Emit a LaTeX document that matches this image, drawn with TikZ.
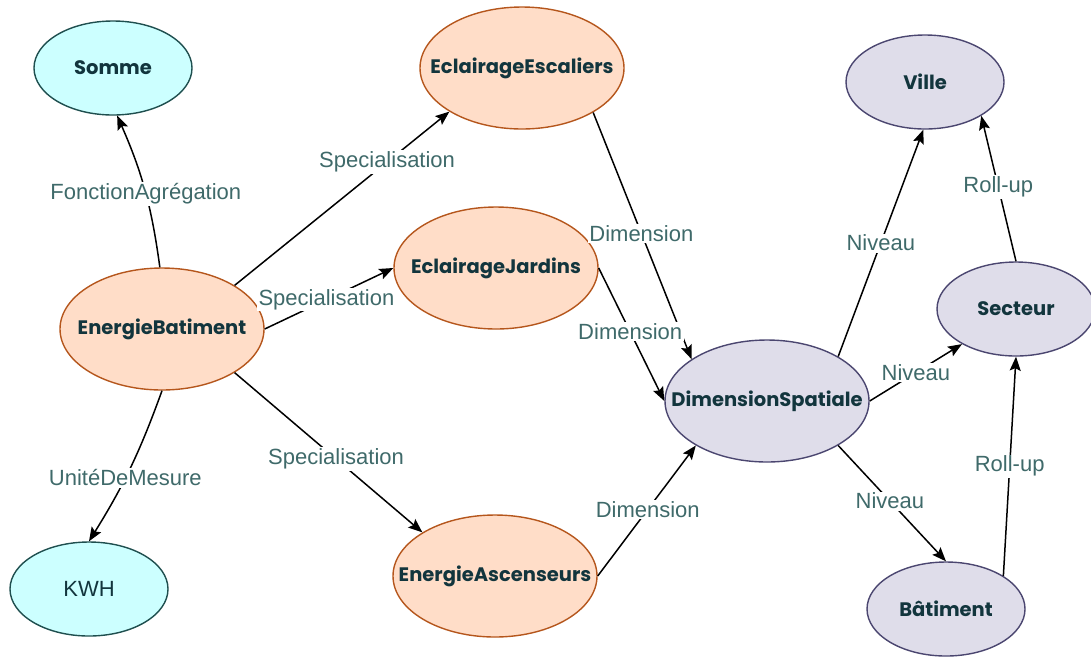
\documentclass[tikz,border=0pt]{standalone}
\usepackage{fontspec}
\setmainfont{Liberation Sans}
\newfontfamily\nodefont{Poppins}
\usetikzlibrary{arrows.meta,shapes.geometric}

\definecolor{cyanfill}{HTML}{CCFFFF}
\definecolor{cyanline}{HTML}{1F4F4F}
\definecolor{peachfill}{HTML}{FFDDC8}
\definecolor{peachline}{HTML}{B5561C}
\definecolor{lavfill}{HTML}{DFDDEA}
\definecolor{lavline}{HTML}{4B4670}
\definecolor{nodetext}{HTML}{12353D}
\definecolor{edgetext}{HTML}{3F6A6A}

% zero-width box so the ellipse keeps its given size
\newcommand{\nodelabel}[1]{\makebox[0pt]{#1}}

\begin{document}
\begin{tikzpicture}[x=1pt,y=-1pt,
  concept/.style={ellipse, line width=1.4pt, inner sep=0pt, text=nodetext,
    font=\nodefont\bfseries\fontsize{19.5}{22}\selectfont},
  smallnode/.style={minimum width=158pt, minimum height=94pt},
  bignode/.style={minimum width=204pt, minimum height=122pt},
  measure/.style={concept, smallnode, fill=cyanfill, draw=cyanline},
  fact/.style={concept, bignode, fill=peachfill, draw=peachline},
  spatial/.style={concept, fill=lavfill, draw=lavline},
  link/.style={line width=1.5pt, -{Stealth[length=14pt,width=11pt,inset=2.5pt]}},
  tag/.style={fill=white, inner sep=1.5pt, text=edgetext,
    font=\fontsize{22}{26}\selectfont},
]
\useasboundingbox (0,0) rectangle (1091,657);

% measures and aggregation
\node[measure] (somme) at (113,68) {\nodelabel{Somme}};
\node[measure, font=\fontsize{22}{26}\selectfont] (kwh) at (89,589) {\nodelabel{KWH}};

% fact and its specialisations
\node[fact] (eb) at (162,329) {\nodelabel{EnergieBatiment}};
\node[fact] (ee) at (522,68) {\nodelabel{EclairageEscaliers}};
\node[fact] (ej) at (496,268) {\nodelabel{EclairageJardins}};
\node[fact] (ea) at (495,576) {\nodelabel{EnergieAscenseurs}};

% spatial dimension hierarchy
\node[spatial, bignode] (ds) at (767,401) {\nodelabel{DimensionSpatiale}};
\node[spatial, smallnode] (ville) at (925,82) {\nodelabel{Ville}};
\node[spatial, smallnode] (secteur) at (1016,309) {\nodelabel{Secteur}};
\node[spatial, smallnode] (bat) at (946,609) {\nodelabel{Bâtiment}};

% connectors
\draw[link] (eb.92) to[bend right=8] node[tag, pos=0.47] {FonctionAgrégation} (somme.-85);
\draw[link] (eb.-90) to[bend left=6] node[tag, pos=0.57] {UnitéDeMesure} (kwh.90);

\draw[link] (eb.31) -- node[tag, pos=0.71] {Specialisation} (ee.-149);
\draw[link] (eb.east) -- node[tag, pos=0.48] {Specialisation} (ej.west);
\draw[link] (eb.-31) -- node[tag, pos=0.54] {Specialisation} (ea.149);

\draw[link] (ee.-32) -- node[tag, pos=0.49] {Dimension} (ds.151);
\draw[link] (ej.east) -- node[tag, pos=0.48] {Dimension} (ds.west);
\draw[link] (ea.east) -- node[tag, pos=0.51] {Dimension} (ds.-148);

\draw[link] (ds.32) -- node[tag, pos=0.5] {Niveau} (ville.-92);
\draw[link] (ds.east) -- node[tag, pos=0.5] {Niveau} (secteur.-147);
\draw[link] (ds.-32) -- node[tag, pos=0.48] {Niveau} (bat.90);

\draw[link] (secteur.90) -- node[tag, pos=0.51] {Roll-up} (ville.-31);
\draw[link] (bat.30) -- node[tag, pos=0.5] {Roll-up} (secteur.-90);
\end{tikzpicture}
\end{document}
